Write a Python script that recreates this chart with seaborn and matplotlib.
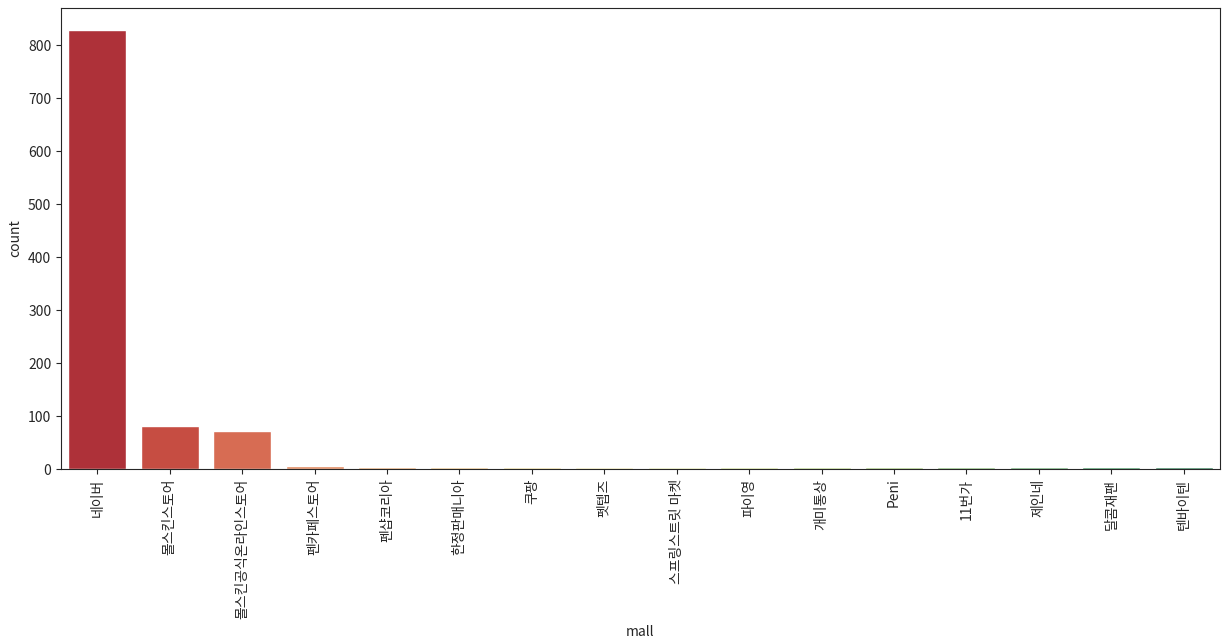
import pandas as pd
import matplotlib
matplotlib.use("Agg")
import matplotlib.pyplot as plt
import seaborn as sns

# 쇼핑몰별 건수
malls = ['네이버', '몰스킨스토어', '몰스킨공식온라인스토어', '펜카페스토어', '펜샵코리아',
         '한정판매니아', '쿠팡', '펫텝즈', '스프링스트릿 마켓', '파이영', '개미통상',
         'Peni', '11번가', '제인네', '달콤재팬', '텐바이텐']
counts = [829, 81, 72, 6, 4, 3, 3, 3, 3, 3, 3, 3, 3, 3, 3, 3]

df = pd.DataFrame({'mall': malls, 'count': counts})

sns.set_style('ticks')
plt.rcParams['font.family'] = ['Noto Sans CJK KR', 'DejaVu Sans']
plt.rcParams['axes.unicode_minus'] = False

fig, ax = plt.subplots(figsize=(12.31, 6.44), dpi=100)
fig.subplots_adjust(left=0.0496, right=0.991, top=0.9876, bottom=0.2717)

sns.barplot(data=df, x='mall', y='count', hue='mall', palette='RdYlGn',
            legend=False, ax=ax, order=malls)

ax.set_xlabel('mall')
ax.set_ylabel('count')
ax.set_yticks(range(0, 801, 100))
plt.xticks(rotation=90)

fig.savefig('out.png', dpi=100)
